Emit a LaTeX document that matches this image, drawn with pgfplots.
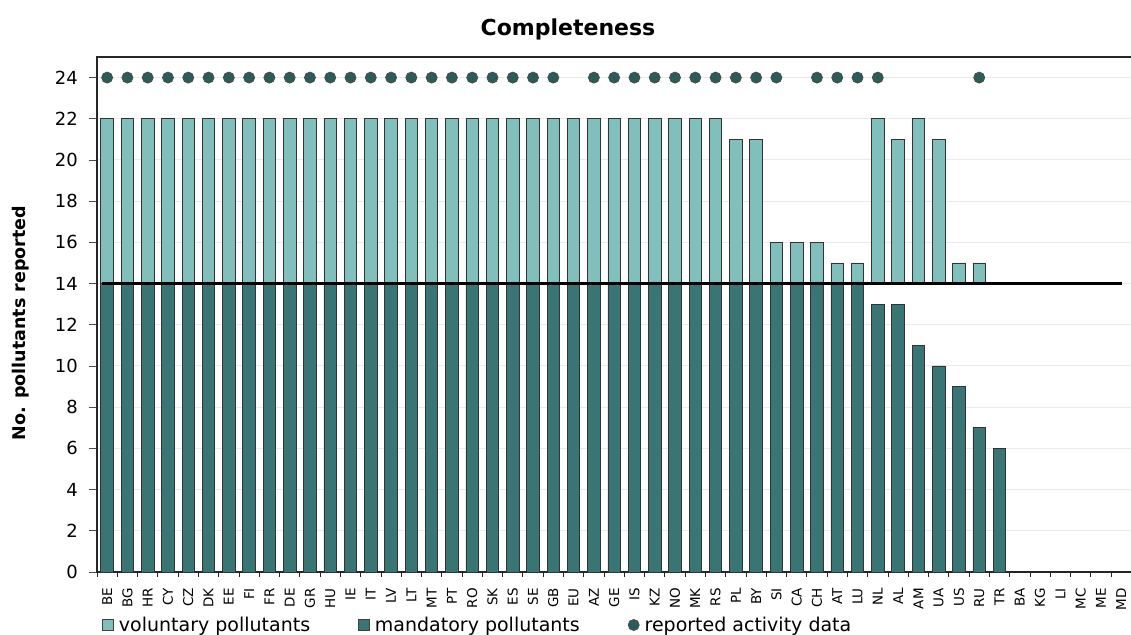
\documentclass[border=0pt]{standalone}
\usepackage{fontspec}
\setmainfont{DejaVu Sans}
\usepackage{pgfplots}
\usepackage{pgfplotstable}
\pgfplotsset{compat=1.18}
\definecolor{volc}{HTML}{80BFBC}
\definecolor{manc}{HTML}{387574}
\definecolor{dotc}{HTML}{2A5C5A}
\definecolor{gridc}{HTML}{EBEBEB}
% x: category index, m: mandatory, g: gap up to 14, v: voluntary above 14
\pgfplotstableread{
x m g v
0 14 0 8
1 14 0 8
2 14 0 8
3 14 0 8
4 14 0 8
5 14 0 8
6 14 0 8
7 14 0 8
8 14 0 8
9 14 0 8
10 14 0 8
11 14 0 8
12 14 0 8
13 14 0 8
14 14 0 8
15 14 0 8
16 14 0 8
17 14 0 8
18 14 0 8
19 14 0 8
20 14 0 8
21 14 0 8
22 14 0 8
23 14 0 8
24 14 0 8
25 14 0 8
26 14 0 8
27 14 0 8
28 14 0 8
29 14 0 8
30 14 0 8
31 14 0 7
32 14 0 7
33 14 0 2
34 14 0 2
35 14 0 2
36 14 0 1
37 14 0 1
38 13 1 8
39 13 1 7
40 11 3 8
41 10 4 7
42 9 5 1
43 7 7 1
44 6 0 0
}\datatable
\begin{document}
\begin{tikzpicture}
\path[use as bounding box] (0,0) rectangle (1131pt,634pt);
\begin{axis}[
  scale only axis, width=1036.3pt, height=515pt,
  at={(97pt,62pt)}, anchor=south west,
  xmin=-0.5, xmax=50.6, ymin=0, ymax=25,
  ybar stacked, bar width=12.5pt,
  axis line style={black!85, line width=1.3pt},
  tick align=outside,
  xtick={0,...,50},
  xticklabels={BE,BG,HR,CY,CZ,DK,EE,FI,FR,DE,GR,HU,IE,IT,LV,LT,MT,PT,RO,SK,ES,SE,GB,EU,AZ,GE,IS,KZ,NO,MK,RS,PL,BY,SI,CA,CH,AT,LU,NL,AL,AM,UA,US,RU,TR,BA,KG,LI,MC,ME,MD},
  major x tick style={draw=none},
  minor xtick={-0.5,0.5,...,50.5},
  minor x tick style={black!85, line width=0.8pt},
  minor tick length=5pt,
  major tick length=8pt,
  ytick={0,2,...,24},
  y tick style={black!70, line width=0.8pt},
  xtick pos=bottom, ytick pos=left,
  ymajorgrids, grid style={gridc, line width=1pt},
  xticklabel style={yshift=-8pt, rotate=90, anchor=east, inner sep=0pt, font=\fontsize{13.5}{15}\selectfont},
  yticklabel style={anchor=east, inner sep=0pt, xshift=-11pt, font=\fontsize{18}{21}\selectfont},
  /pgf/number format/assume math mode=true,
  title={Completeness},
  title style={at={(axis description cs:0.4545,1)}, anchor=base, inner sep=0pt, yshift=15pt, font=\fontsize{22}{25}\selectfont\bfseries},
  ylabel={No. pollutants reported},
  every axis y label/.style={at={(axis description cs:-0.0733,0.4835)}, rotate=90, anchor=center, font=\fontsize{17.5}{20}\selectfont\bfseries},
]
\addplot[fill=manc, draw=black!80, line width=0.8pt] table[x=x, y=m] {\datatable};
\addplot[fill=none, draw=none] table[x=x, y=g] {\datatable};
\addplot[fill=volc, draw=black!80, line width=0.8pt] table[x=x, y=v] {\datatable};
\end{axis}
\begin{axis}[
  scale only axis, width=1036.3pt, height=515pt,
  at={(97pt,62pt)}, anchor=south west,
  xmin=-0.5, xmax=50.6, ymin=0, ymax=25,
  hide axis,
  legend columns=3,
  legend style={at={(axis description cs:0.0048,-0.1029)}, anchor=west, draw=none, fill=none, inner sep=0pt,
    font=\fontsize{19}{22}\selectfont,
    nodes={inner sep=0pt},
    /tikz/every odd column/.append style={column sep=5pt},
    /tikz/every even column/.append style={column sep=48pt}},
]
\addlegendimage{legend image code/.code={\draw[fill=volc, draw=black!75, line width=0.8pt] (0pt,-5.5pt) rectangle (11pt,5.5pt);}}
\addlegendentry{voluntary pollutants}
\addlegendimage{legend image code/.code={\draw[fill=manc, draw=black!75, line width=0.8pt] (0pt,-5.5pt) rectangle (11pt,5.5pt);}}
\addlegendentry{mandatory pollutants}
\addplot[black, line width=2.6pt, forget plot] coordinates {(-0.25,14) (50.05,14)};
\addplot[only marks, mark=*, mark size=5.5pt, mark options={fill=dotc, draw=black!70, line width=0.8pt},
  legend image code/.code={\draw[fill=dotc, draw=black!70, line width=0.8pt] (5.5pt,0pt) circle (5.5pt);}]
  coordinates {(0,24) (1,24) (2,24) (3,24) (4,24) (5,24) (6,24) (7,24) (8,24) (9,24) (10,24) (11,24) (12,24) (13,24) (14,24) (15,24) (16,24) (17,24) (18,24) (19,24) (20,24) (21,24) (22,24)
  (24,24) (25,24) (26,24) (27,24) (28,24) (29,24) (30,24) (31,24) (32,24) (33,24)
  (35,24) (36,24) (37,24) (38,24) (43,24)};
\addlegendentry{reported activity data}
\end{axis}
\end{tikzpicture}
\end{document}
